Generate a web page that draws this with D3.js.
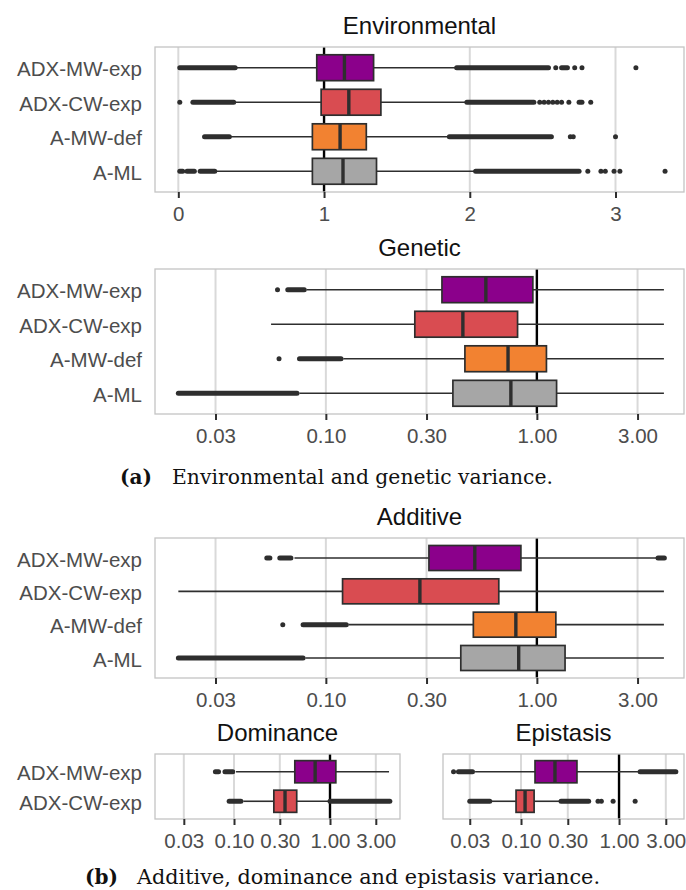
<!DOCTYPE html>
<html>
<head>
<meta charset="utf-8">
<script src="https://cdn.jsdelivr.net/npm/d3@7"></script>
<style>
  body { margin: 0; background: #fff; }
</style>
</head>
<body>
<svg id="fig" width="686" height="890"></svg>
<script>
// methods, top to bottom, and their fill colours
let methods = ["ADX-MW-exp", "ADX-CW-exp", "A-MW-def", "A-ML"];
let methodColors = ["#8B008B", "#D94C51", "#F28231", "#A6A6A6"];

// Environmental variance (linear axis)
let envTicks = [0, 1, 2, 3];
let envQ1 = [0.95, 0.98, 0.92, 0.92];
let envMed = [1.14, 1.17, 1.11, 1.13];
let envQ3 = [1.34, 1.39, 1.29, 1.36];
let envLo = [0.40, 0.39, 0.36, 0.26];
let envHi = [1.90, 1.97, 1.85, 2.03];
// dense outlier stretches [from, to] and single outliers
let envRuns = [
  [[0.01, 0.39], [1.91, 2.54], [2.63, 2.67]],
  [[0.10, 0.38], [1.98, 2.44], [2.75, 2.77]],
  [[0.18, 0.35], [1.86, 2.56]],
  [[0.01, 0.03], [0.06, 0.11], [0.15, 0.25], [2.04, 2.75]]
];
let envPts = [
  [2.59, 2.72, 2.77, 3.14],
  [0.01, 2.48, 2.51, 2.54, 2.57, 2.60, 2.63, 2.68, 2.83],
  [2.69, 2.71, 3.00],
  [2.81, 2.90, 2.93, 2.99, 3.03, 3.34]
];

// log axis ticks shared by the other panels
let logTicks = [0.03, 0.1, 0.3, 1, 3];

// Genetic variance
let genQ1 = [0.355, 0.264, 0.456, 0.40];
let genMed = [0.573, 0.446, 0.73, 0.753];
let genQ3 = [0.957, 0.81, 1.11, 1.24];
let genLo = [0.081, 0.055, 0.121, 0.075];
let genHi = [4.0, 4.0, 4.0, 4.0];
let genRuns = [[[0.066, 0.079]], [], [[0.075, 0.118]], [[0.020, 0.073]]];
let genPts = [[0.059], [], [0.060], []];

// Additive variance
let addQ1 = [0.308, 0.12, 0.50, 0.436];
let addMed = [0.508, 0.279, 0.795, 0.82];
let addQ3 = [0.84, 0.66, 1.23, 1.36];
let addLo = [0.071, 0.020, 0.128, 0.080];
let addHi = [3.72, 4.0, 4.0, 4.0];
let addRuns = [[[0.0525, 0.0543], [0.0605, 0.0683], [3.75, 4.02]], [], [[0.078, 0.125]], [[0.020, 0.078]]];
let addPts = [[], [], [0.0625], []];

// Dominance variance (ADX methods only)
let domQ1 = [0.43, 0.26];
let domMed = [0.70, 0.34];
let domQ3 = [1.15, 0.45];
let domLo = [0.105, 0.125];
let domHi = [4.12, 0.98];
let domRuns = [[[0.064, 0.069], [0.0805, 0.097]], [[0.089, 0.118], [1.0, 4.2]]];
let domPts = [[], []];

// Epistasis variance (ADX methods only)
let epiQ1 = [0.139, 0.089];
let epiMed = [0.222, 0.11];
let epiQ3 = [0.372, 0.136];
let epiLo = [0.034, 0.050];
let epiHi = [1.56, 0.25];
let epiRuns = [[[0.023, 0.032], [1.64, 3.8]], [[0.030, 0.048], [0.256, 0.49]]];
let epiPts = [[0.0205], [0.61, 0.66, 0.87, 1.46]];

let svg = d3.select("#fig");
let sans = "'Liberation Sans', Arial, Helvetica, sans-serif";
let ink = "#2E2E2E";

function drawPanel(o) {
  let g = svg.append("g");
  let x = (o.log ? d3.scaleLog() : d3.scaleLinear()).domain(o.domain).range([o.left, o.right]);
  let cats = methods.slice(0, o.q1.length);
  let y = d3.scalePoint().domain(cats).range([o.top, o.bottom]).padding(0.6);
  let bh = y.step() * 0.75;
  let rows = cats.map((c, i) => ({
    cat: c, fill: methodColors[i], q1: o.q1[i], med: o.med[i], q3: o.q3[i],
    lo: o.lo[i], hi: o.hi[i], runs: o.runs[i], pts: o.pts[i]
  }));

  g.append("rect")
    .attr("x", o.left).attr("y", o.top)
    .attr("width", o.right - o.left).attr("height", o.bottom - o.top)
    .attr("fill", "white");

  g.selectAll("line.grid")
    .data(o.ticks)
    .join("line")
    .attr("class", "grid")
    .attr("x1", d => x(d)).attr("x2", d => x(d))
    .attr("y1", o.top).attr("y2", o.bottom)
    .attr("stroke", "#D9D9D9")
    .attr("stroke-width", 2);

  // reference line at 1 (sits under the boxes)
  g.append("line")
    .attr("x1", x(1)).attr("x2", x(1))
    .attr("y1", o.top).attr("y2", o.bottom)
    .attr("stroke", "black").attr("stroke-width", 2.4);

  let r = g.selectAll("g.row")
    .data(rows)
    .join("g")
    .attr("class", "row")
    .attr("transform", d => "translate(0," + y(d.cat) + ")");

  // whiskers
  r.append("line")
    .attr("x1", d => x(d.lo)).attr("x2", d => x(d.q1))
    .attr("stroke", ink).attr("stroke-width", 1.6);
  r.append("line")
    .attr("x1", d => x(d.q3)).attr("x2", d => x(d.hi))
    .attr("stroke", ink).attr("stroke-width", 1.6);

  // outliers: packed stretches drawn as a fat rounded stroke, the rest as dots
  r.selectAll("line.run")
    .data(d => d.runs)
    .join("line")
    .attr("class", "run")
    .attr("x1", d => x(d[0])).attr("x2", d => x(d[1]))
    .attr("stroke", ink)
    .attr("stroke-width", 5)
    .attr("stroke-linecap", "round");
  r.selectAll("circle")
    .data(d => d.pts)
    .join("circle")
    .attr("cx", d => x(d)).attr("cy", 0)
    .attr("r", 2.5)
    .attr("fill", ink);

  // boxes
  r.append("rect")
    .attr("x", d => x(d.q1)).attr("y", -bh / 2)
    .attr("width", d => x(d.q3) - x(d.q1)).attr("height", bh)
    .attr("fill", d => d.fill)
    .attr("stroke", ink).attr("stroke-width", 1.7);
  r.append("line")
    .attr("x1", d => x(d.med)).attr("x2", d => x(d.med))
    .attr("y1", -bh / 2).attr("y2", bh / 2)
    .attr("stroke", ink).attr("stroke-width", 3.4);

  g.append("rect")
    .attr("x", o.left).attr("y", o.top)
    .attr("width", o.right - o.left).attr("height", o.bottom - o.top)
    .attr("fill", "none")
    .attr("stroke", "#C4C4C4").attr("stroke-width", 1.3);

  let ax = g.append("g")
    .attr("transform", "translate(0," + o.bottom + ")")
    .call(d3.axisBottom(x).tickValues(o.ticks).tickFormat(o.fmt).tickSize(6).tickPadding(8));
  ax.select(".domain").remove();
  ax.selectAll(".tick line").attr("stroke", ink).attr("stroke-width", 2);
  ax.selectAll(".tick text")
    .attr("fill", "#4D4D4D")
    .style("font-family", sans)
    .style("font-size", "20.5px");

  if (o.showY) {
    g.selectAll("text.ylab")
      .data(cats)
      .join("text")
      .attr("class", "ylab")
      .attr("x", 142)
      .attr("y", d => y(d))
      .attr("dy", "0.42em")
      .attr("text-anchor", "end")
      .attr("fill", "#4D4D4D")
      .style("font-family", sans)
      .style("font-size", "20.5px")
      .text(d => d);
  }

  g.append("text")
    .attr("x", (o.left + o.right) / 2)
    .attr("y", o.top - 13.5)
    .attr("text-anchor", "middle")
    .attr("fill", "#111")
    .style("font-family", sans)
    .style("font-size", "24px")
    .text(o.title);
}

let fmt2 = d3.format(".2f");

drawPanel({ title: "Environmental", left: 155, right: 684, top: 47, bottom: 192,
  log: false, domain: [-0.16, 3.47], ticks: envTicks, fmt: d3.format("d"), showY: true,
  q1: envQ1, med: envMed, q3: envQ3, lo: envLo, hi: envHi, runs: envRuns, pts: envPts });

drawPanel({ title: "Genetic", left: 155, right: 684, top: 269, bottom: 414,
  log: true, domain: [0.0155, 4.98], ticks: logTicks, fmt: fmt2, showY: true,
  q1: genQ1, med: genMed, q3: genQ3, lo: genLo, hi: genHi, runs: genRuns, pts: genPts });

drawPanel({ title: "Additive", left: 155, right: 684, top: 538, bottom: 678,
  log: true, domain: [0.0155, 4.98], ticks: logTicks, fmt: fmt2, showY: true,
  q1: addQ1, med: addMed, q3: addQ3, lo: addLo, hi: addHi, runs: addRuns, pts: addPts });

drawPanel({ title: "Dominance", left: 155, right: 400, top: 754, bottom: 819,
  log: true, domain: [0.01503, 5.36], ticks: logTicks, fmt: fmt2, showY: true,
  q1: domQ1, med: domMed, q3: domQ3, lo: domLo, hi: domHi, runs: domRuns, pts: domPts });

drawPanel({ title: "Epistasis", left: 443, right: 684, top: 754, bottom: 819,
  log: true, domain: [0.0160, 4.60], ticks: logTicks, fmt: fmt2, showY: false,
  q1: epiQ1, med: epiMed, q3: epiQ3, lo: epiLo, hi: epiHi, runs: epiRuns, pts: epiPts });

// sub-figure captions
let serif = "'DejaVu Serif', 'Liberation Serif', serif";
function caption(tag, text, xTag, xText, xEnd, yBase) {
  svg.append("text")
    .attr("x", xTag).attr("y", yBase)
    .attr("fill", "#111")
    .style("font-family", serif).style("font-size", "20px").style("font-weight", "bold")
    .text(tag);
  svg.append("text")
    .attr("x", xText).attr("y", yBase)
    .attr("fill", "#111")
    .attr("textLength", xEnd - xText)
    .attr("lengthAdjust", "spacingAndGlyphs")
    .style("font-family", serif).style("font-size", "20px")
    .text(text);
}
caption("(a)", "Environmental and genetic variance.", 120, 172, 553, 484);
caption("(b)", "Additive, dominance and epistasis variance.", 85, 137, 600, 884);
</script>
</body>
</html>
